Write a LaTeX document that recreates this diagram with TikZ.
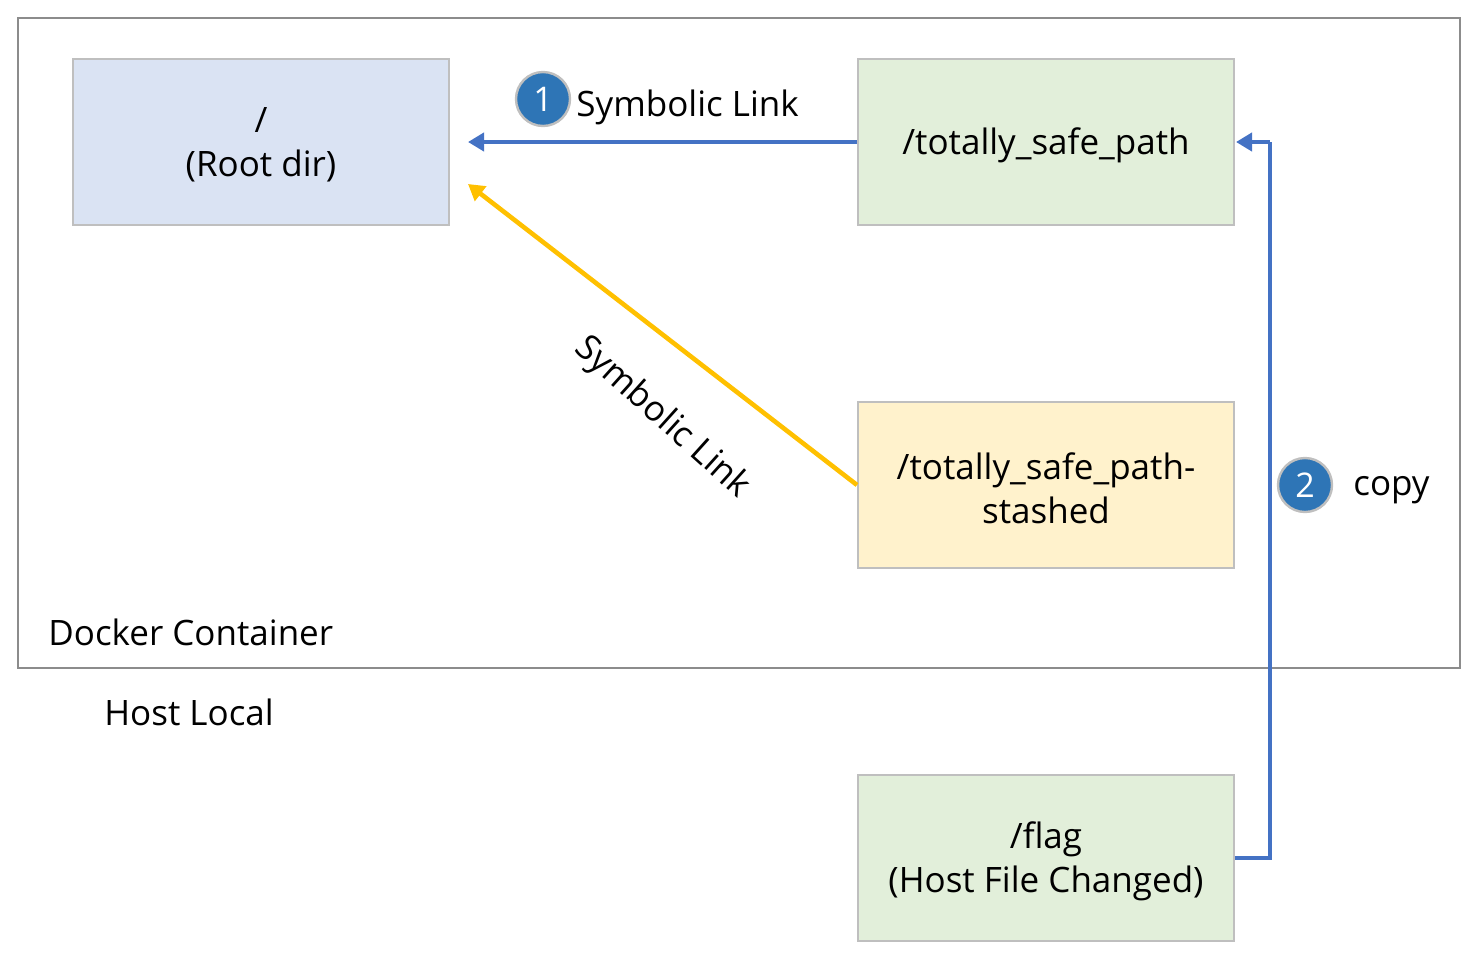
\documentclass[tikz,border=0pt]{standalone}
\usepackage{fontspec}
\setmainfont{Open Sans}
\usetikzlibrary{arrows.meta}
\definecolor{rootfill}{HTML}{DAE3F3}
\definecolor{greenfill}{HTML}{E2EFDA}
\definecolor{yellowfill}{HTML}{FFF2CC}
\definecolor{boxline}{HTML}{BFBFBF}
\definecolor{frameline}{HTML}{8C8C8C}
\definecolor{linkblue}{HTML}{4472C4}
\definecolor{linkyellow}{HTML}{FFC000}
\definecolor{badgeblue}{HTML}{2E75B6}
\tikzset{
  filebox/.style={draw=boxline, line width=1pt, minimum width=188pt, minimum height=83pt,
    align=center, font=\fontsize{17.5}{22}\selectfont, inner sep=0pt},
  boxtext/.style={yshift=-1.5pt},
  badge/.style={circle, fill=badgeblue, draw=boxline, line width=1.2pt, minimum size=27pt,
    inner sep=0pt, text=white, font=\fontsize{17}{18}\selectfont},
  plain/.style={font=\fontsize{17.5}{20}\selectfont, inner sep=0pt},
  tip/.style={-{Triangle[length=8pt,width=9pt]}},
  bluelink/.style={tip, draw=linkblue, line width=2.3pt},
  yellowlink/.style={tip, draw=linkyellow, line width=2.3pt}
}
\begin{document}
\begin{tikzpicture}[x=0.5pt, y=-0.5pt]
  \useasboundingbox (0,0) rectangle (1476,970);
  % container frame
  \draw[frameline, line width=1pt] (18,18) rectangle (1460,668);
  \node[plain, anchor=west] (docker) at (48,632) {Docker Container};
  \node[plain, anchor=west] (host) at (104,712) {Host Local};

  % file boxes
  \node[filebox, fill=rootfill] (root) at (261,142) {};
  \node[filebox, fill=greenfill] (safe) at (1046,142) {};
  \node[filebox, fill=yellowfill] (stash) at (1046,485) {};
  \node[filebox, fill=greenfill] (flag) at (1046,858) {};
  % their texts
  \node[filebox, draw=none, boxtext] (rootT) at (root) {/\\(Root dir)};
  \node[filebox, draw=none, boxtext] (safeT) at (safe) {/totally\_safe\_path};
  \node[filebox, draw=none, boxtext] (stashT) at (stash) {/totally\_safe\_path-\\stashed};
  \node[filebox, draw=none, boxtext] (flagT) at (flag) {/flag\\(Host File Changed)};

  % arrow end points beside the root box
  \coordinate (rootA) at (468,142);
  \coordinate (rootB) at (468,184);
  \coordinate (safeIn) at (1236,142);
  \coordinate (bendLow) at (1270,858);
  \coordinate (bendHigh) at (1270,142);

  % links
  \draw[bluelink] (safe.west) -- (rootA);
  \draw[yellowlink] (stash.west) -- (rootB);
  \draw[bluelink, -] (flag.east) -- (bendLow) -- (bendHigh);
  \draw[bluelink] (bendHigh) -- (safeIn);

  % labels
  \node[badge] (b1) at (543,99) {1};
  \node[plain, anchor=west] (lbl1) at (576,107) {Symbolic Link};
  \node[plain, rotate=-42] (lbl2) at (662,418) {Symbolic Link};
  \node[badge] (b2) at (1305,485) {2};
  \node[plain, anchor=west] (lbl3) at (1353,490) {copy};
\end{tikzpicture}
\end{document}
